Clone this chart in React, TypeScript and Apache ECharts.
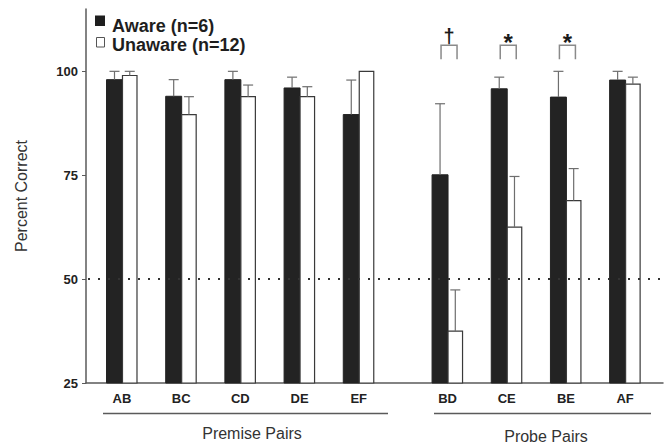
import React, { useEffect, useRef } from "react";
import * as echarts from "echarts";

const categories = ["AB", "BC", "CD", "DE", "EF", "BD", "CE", "BE", "AF"];
const positions = [0, 1, 2, 3, 4, 5.5, 6.5, 7.5, 8.5];
const awareMean = [98, 94, 98, 96, 89.6, 75.1, 95.8, 93.8, 97.9];
const awareUpper = [100, 98, 100, 98.6, 97.9, 92.2, 98.6, 100, 100];
const unawareMean = [99, 89.6, 93.9, 93.9, 100, 37.5, 62.5, 68.9, 96.9];
const unawareUpper = [100, 93.9, 96.7, 96.3, 100, 47.4, 74.7, 76.6, 98.6];
const sigPositions = [5.5, 6.5, 7.5];
const sigSymbols = ["\u2020", "*", "*"];
const bracketTop = 106.3;
const bracketBottom = 102.9;
const chanceLevel = 50;
const yTicks = [25, 50, 75, 100];
const X_MIN = -0.608;
const X_MAX = 9.14;
const Y_MIN = 25;
const Y_MAX = 115;

const FONT = "'Liberation Sans', Arial, sans-serif";

function makeBarRender(side: "left" | "right") {
  return (params: any, api: any) => {
    const x = api.value(0);
    const v = api.value(1);
    const e = api.value(2);
    const unit = api.size([1, 0])[0];
    const top = api.coord([x, v]);
    const base = api.coord([x, Y_MIN]);
    const errP = api.coord([x, e]);
    const w = side === "left" ? unit * 0.27 : unit * 0.245;
    const left = side === "left" ? top[0] - w + 0.5 : top[0] + 0.5;
    const cx = left + w / 2;
    const children: any[] = [];
    children.push({
      type: "rect",
      shape: { x: left, y: top[1], width: w, height: base[1] - top[1] },
      style:
        side === "left"
          ? { fill: "#232323", stroke: "#232323", lineWidth: 1 }
          : { fill: "#ffffff", stroke: "#3a3a3a", lineWidth: 1.2 },
    });
    if (top[1] - errP[1] > 0.5) {
      children.push({
        type: "line",
        shape: { x1: cx, y1: top[1], x2: cx, y2: errP[1] },
        style: { stroke: "#6e6e6e", lineWidth: 1.2 },
      });
      children.push({
        type: "line",
        shape: { x1: cx - 5, y1: errP[1], x2: cx + 5, y2: errP[1] },
        style: { stroke: "#6e6e6e", lineWidth: 1.2 },
      });
    }
    return { type: "group", children };
  };
}

function txt(text: string, x: number, y: number, size: number, bold: boolean, align: string, extra: any = {}) {
  return {
    type: "text",
    x,
    y,
    style: {
      text,
      align,
      verticalAlign: "middle",
      fontFamily: FONT,
      fontWeight: bold ? "bold" : "normal",
      fontSize: size,
      fill: bold ? "#1e1e1e" : "#333",
    },
    ...extra,
  };
}

export default function App() {
  const ref = useRef<HTMLDivElement>(null);
  useEffect(() => {
    if (!ref.current) return;
    const chart = echarts.init(ref.current, null, { renderer: "svg" });
    const awareData = positions.map((p, i) => [p, awareMean[i], awareUpper[i]]);
    const unawareData = positions.map((p, i) => [p, unawareMean[i], unawareUpper[i]]);
    const sigData = sigPositions.map((p, i) => [p, bracketTop, bracketBottom, i]);

    chart.setOption({
      animation: false,
      grid: { left: 86, right: 8, top: 9, bottom: 60 },
      xAxis: {
        type: "value",
        min: X_MIN,
        max: X_MAX,
        splitLine: { show: false },
        axisLine: { show: true, onZero: false, lineStyle: { color: "#5a5a5a", width: 1.5 } },
        axisTick: { show: false },
        axisLabel: {
          customValues: positions,
          formatter: (val: number) => {
            const idx = positions.indexOf(val);
            return idx >= 0 ? categories[idx] : "";
          },
          fontFamily: FONT,
          fontWeight: "bold",
          fontSize: 13,
          color: "#222",
          margin: 9,
        },
      },
      yAxis: {
        type: "value",
        min: Y_MIN,
        max: Y_MAX,
        splitLine: { show: false },
        axisLine: { show: true, onZero: false, lineStyle: { color: "#5a5a5a", width: 1.5 } },
        axisTick: { show: true, customValues: yTicks, length: 4, lineStyle: { color: "#5a5a5a" } },
        axisLabel: {
          customValues: yTicks,
          fontFamily: FONT,
          fontWeight: "bold",
          fontSize: 13,
          color: "#222",
          margin: 8,
        },
      },
      series: [
        {
          type: "custom",
          name: "Aware (n=6)",
          data: awareData,
          renderItem: makeBarRender("left"),
          z: 2,
        },
        {
          type: "custom",
          name: "Unaware (n=12)",
          data: unawareData,
          renderItem: makeBarRender("right"),
          z: 2,
        },
        {
          type: "custom",
          name: "chance",
          data: [[X_MIN, chanceLevel]],
          renderItem: (params: any, api: any) => {
            const a = api.coord([X_MIN, chanceLevel]);
            const b = api.coord([X_MAX, chanceLevel]);
            return {
              type: "line",
              shape: { x1: a[0] + 2, y1: a[1], x2: b[0], y2: b[1] },
              style: { stroke: "#333", lineWidth: 2, lineDash: [2, 8] },
            };
          },
          z: 4,
        },
        {
          type: "custom",
          name: "significance",
          data: sigData,
          clip: false,
          renderItem: (params: any, api: any) => {
            const x = api.value(0);
            const t = api.coord([x, api.value(1)]);
            const b = api.coord([x, api.value(2)]);
            const sym = sigSymbols[api.value(3)];
            const cx = t[0] + 1.5;
            const half = 8;
            return {
              type: "group",
              children: [
                {
                  type: "polyline",
                  shape: {
                    points: [
                      [cx - half, b[1]],
                      [cx - half, t[1]],
                      [cx + half, t[1]],
                      [cx + half, b[1]],
                    ],
                  },
                  style: { stroke: "#8a8a8a", lineWidth: 1.5, fill: "none" },
                },
                {
                  type: "text",
                  x: cx,
                  y: sym === "*" ? t[1] + 9 : t[1] + 1,
                  style: {
                    text: sym,
                    align: "center",
                    verticalAlign: "bottom",
                    fontFamily: FONT,
                    fontWeight: "bold",
                    fontSize: sym === "*" ? 24 : 20,
                    fill: "#1a1a1a",
                  },
                },
              ],
            };
          },
          z: 3,
        },
      ],
      graphic: [
        { type: "rect", shape: { x: 95, y: 15.5, width: 10, height: 10.5 }, style: { fill: "#1e1e1e" } },
        txt("Aware (n=6)", 112, 26, 18, true, "left"),
        {
          type: "rect",
          shape: { x: 96.5, y: 37.5, width: 8, height: 9.5 },
          style: { fill: "#fff", stroke: "#555", lineWidth: 1 },
        },
        txt("Unaware (n=12)", 112, 44.5, 18, true, "left"),
        txt("Percent Correct", 21, 196, 16, false, "center", { rotation: Math.PI / 2 }),
        {
          type: "line",
          shape: { x1: 103, y1: 413.5, x2: 388, y2: 413.5 },
          style: { stroke: "#5a5a5a", lineWidth: 1.5 },
        },
        {
          type: "line",
          shape: { x1: 434, y1: 413.5, x2: 651, y2: 413.5 },
          style: { stroke: "#5a5a5a", lineWidth: 1.5 },
        },
        txt("Premise Pairs", 252, 433, 16, false, "center"),
        txt("Probe Pairs", 546, 436, 16, false, "center"),
      ],
    });
    return () => chart.dispose();
  }, []);
  return (
    <div
      ref={ref}
      style={{ width: 671, height: 443, position: "absolute", left: 0, top: 0 }}
    />
  );
}
